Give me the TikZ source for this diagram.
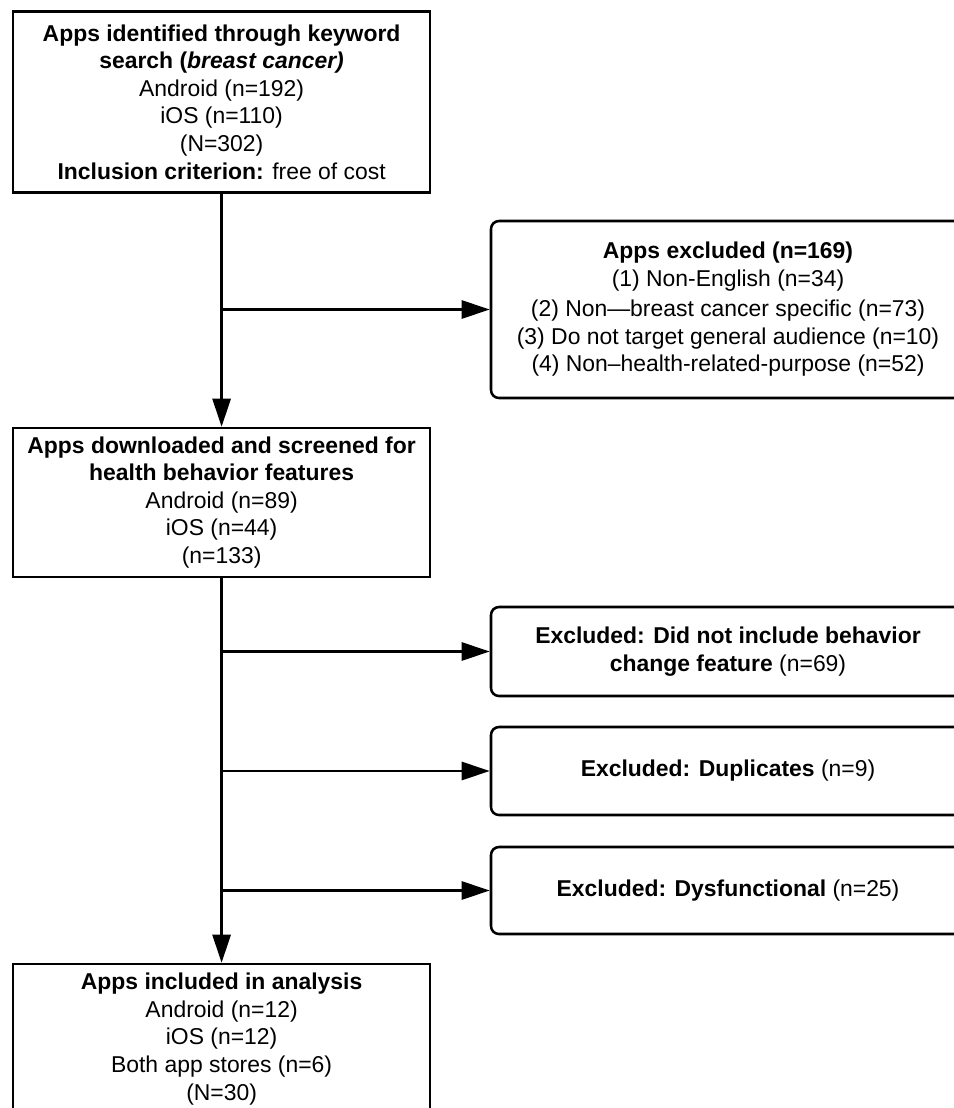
\documentclass[tikz,border=0pt]{standalone}
\usepackage{fontspec}
\setmainfont{Liberation Sans}
\usepackage{tikz}
\usetikzlibrary{arrows.meta}

\begin{document}
\begin{tikzpicture}[>={Triangle[length=0.7cm,width=0.45cm]},
		font=\fontsize{16.3}{19.6}\selectfont,
		node_style/.style={rectangle,draw=black,line width=1.8pt,fill=white,align=center,inner sep=0pt,minimum width=10.425cm},
		excl_style/.style={rectangle,rounded corners=0.2cm,draw=black,line width=1.8pt,fill=white,align=center,inner sep=0pt,minimum width=11.85cm},
		edge_style/.style={draw=black,line width=2pt,->}]
		
		\useasboundingbox (0,0) rectangle (23.85,-27.7);
		
		\node[node_style,minimum height=4.525cm] (n1) at (5.54,-2.55)
			{\textbf{Apps identified through keyword}\\
			 \textbf{search (\textit{breast cancer)}}\\
			 Android (n=192)\\ iOS (n=110)\\ (N=302)\\
			 \textbf{Inclusion criterion:} free of cost};
		\node[node_style,minimum height=3.725cm] (n2) at (5.54,-12.5625)
			{\textbf{Apps downloaded and screened for}\\
			 \textbf{health behavior features}\\
			 Android (n=89)\\ iOS (n=44)\\ (n=133)};
		\node[node_style,minimum height=3.75cm] (n3) at (5.54,-25.975)
			{\textbf{Apps included in analysis}\\
			 Android (n=12)\\ iOS (n=12)\\ Both app stores (n=6)\\ (N=30)};
		
		\node[excl_style,minimum height=4.425cm] (e1) at (18.2,-7.7375)
			{\textbf{Apps excluded (n=169)}\\
			 (1) Non-English (n=34)\\[2pt]
			 (2) Non—breast cancer specific (n=73)\\
			 (3) Do not target general audience (n=10)\\
			 (4) Non–health-related-purpose (n=52)};
		\node[excl_style,minimum height=2.225cm] (e2) at (18.2,-16.2875)
			{\textbf{Excluded: Did not include behavior}\\
			 \textbf{change feature} (n=69)};
		\node[excl_style,minimum height=2.2cm] (e3) at (18.2,-19.275)
			{\textbf{Excluded: Duplicates} (n=9)};
		\node[excl_style,minimum height=2.175cm] (e4) at (18.2,-22.2625)
			{\textbf{Excluded: Dysfunctional} (n=25)};
		
		\draw[edge_style] (n1) -- (n2);
		\draw[edge_style] (n2) -- (n3);
		\draw[edge_style] (n1.south |- e1.west) -- (e1.west);
		\draw[edge_style] (n2.south |- e2.west) -- (e2.west);
		\draw[edge_style] (n2.south |- e3.west) -- (e3.west);
		\draw[edge_style] (n2.south |- e4.west) -- (e4.west);
		
\end{tikzpicture}
\end{document}
